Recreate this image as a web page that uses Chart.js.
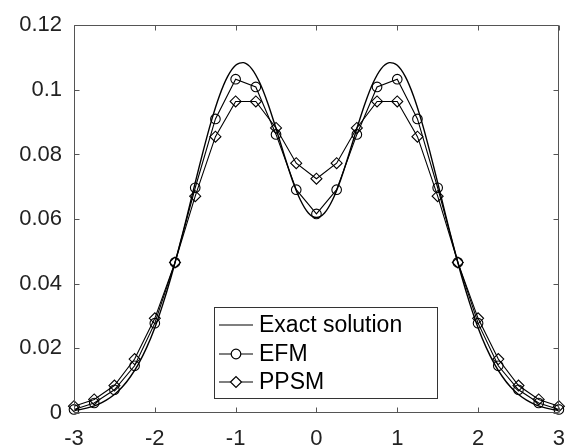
<!DOCTYPE html>
<html>
<head>
<meta charset="utf-8">
<script src="https://cdn.jsdelivr.net/npm/chart.js@4.4.0/dist/chart.umd.min.js"></script>
<style>
  html, body { margin: 0; padding: 0; background: #ffffff; }
  #wrap { width: 578px; height: 446px; }
</style>
</head>
<body>
<div id="wrap"><canvas id="c" width="578" height="446"></canvas></div>
<script>
// ---------- data ----------
const exactX = [-3.0,-2.9,-2.8,-2.7,-2.6,-2.5,-2.4,-2.3,-2.2,-2.1,-2.0,-1.9,-1.8,-1.7,-1.6,-1.5,-1.4,-1.3,-1.2,-1.1,-1.0,-0.9,-0.8,-0.7,-0.6,-0.5,-0.4,-0.3,-0.2,-0.1,0.0,0.1,0.2,0.3,0.4,0.5,0.6,0.7,0.8,0.9,1.0,1.1,1.2,1.3,1.4,1.5,1.6,1.7,1.8,1.9,2.0,2.1,2.2,2.3,2.4,2.5,2.6,2.7,2.8,2.9,3.0];
const exactY = [0.0008,0.0012,0.0018,0.0027,0.0040,0.0057,0.0081,0.0113,0.0153,0.0203,0.0264,0.0337,0.0420,0.0512,0.0611,0.0713,0.0812,0.0904,0.0982,0.1041,0.1076,0.1084,0.1065,0.1021,0.0957,0.0880,0.0799,0.0722,0.0660,0.0619,0.0605,0.0619,0.0660,0.0722,0.0799,0.0880,0.0957,0.1021,0.1065,0.1084,0.1076,0.1041,0.0982,0.0904,0.0812,0.0713,0.0611,0.0512,0.0420,0.0337,0.0264,0.0203,0.0153,0.0113,0.0081,0.0057,0.0040,0.0027,0.0018,0.0012,0.0008];
const markX = [-3,-2.75,-2.5,-2.25,-2,-1.75,-1.5,-1.25,-1,-0.75,-0.5,-0.25,0,0.25,0.5,0.75,1,1.25,1.5,1.75,2,2.25,2.5,2.75,3];
const efmY  = [0.0011,0.0031,0.0072,0.0146,0.0278,0.0466,0.0697,0.0910,0.1033,0.1009,0.0862,0.0691,0.0616,0.0691,0.0862,0.1009,0.1033,0.0910,0.0697,0.0466,0.0278,0.0146,0.0072,0.0031,0.0011];
const ppsmY = [0.0021,0.0042,0.0085,0.0167,0.0293,0.0466,0.0671,0.0855,0.0964,0.0964,0.0882,0.0773,0.0725,0.0773,0.0882,0.0964,0.0964,0.0855,0.0671,0.0466,0.0293,0.0167,0.0085,0.0042,0.0021];
const seriesNames = ['Exact solution', 'EFM', 'PPSM'];
const xTicks = [-3,-2,-1,0,1,2,3];
const xTickLabels = ['-3','-2','-1','0','1','2','3'];
const yTicks = [0,0.02,0.04,0.06,0.08,0.1,0.12];
const yTickLabels = ['0','0.02','0.04','0.06','0.08','0.1','0.12'];

// ---------- styles ----------
const FONT = '"Liberation Sans", Arial, Helvetica, sans-serif';
const AXIS_COLOR = '#555555';
const TEXT_COLOR = '#222222';

function pts(xs, ys) { return xs.map((x, i) => ({ x: x, y: ys[i] })); }

const frameAndLegend = {
  id: 'frameAndLegend',
  afterDatasetsDraw(chart) {
    const ctx = chart.ctx;
    const a = chart.chartArea;
    const xs = chart.scales.x, ys = chart.scales.y;
    ctx.save();
    // box
    ctx.strokeStyle = AXIS_COLOR;
    ctx.lineWidth = 1;
    const L = Math.round(a.left) + 0.5, R = Math.round(a.right) - 0.5;
    const T = Math.round(a.top) + 0.5, B = Math.round(a.bottom) - 0.5;
    ctx.beginPath();
    ctx.rect(L, T, R - L, B - T);
    ctx.stroke();
    // inward ticks
    const tl = 5;
    ctx.beginPath();
    xTicks.forEach(v => {
      const px = Math.round(xs.getPixelForValue(v)) + 0.5;
      ctx.moveTo(px, B); ctx.lineTo(px, B - tl);
      ctx.moveTo(px, T); ctx.lineTo(px, T + tl);
    });
    yTicks.forEach(v => {
      const py = Math.round(ys.getPixelForValue(v)) + 0.5;
      ctx.moveTo(L, py); ctx.lineTo(L + tl, py);
      ctx.moveTo(R, py); ctx.lineTo(R - tl, py);
    });
    ctx.stroke();

    // legend
    const lx = 214.5, ly = 307.5, lw = 223, lh = 91;
    ctx.fillStyle = '#ffffff';
    ctx.fillRect(lx, ly, lw, lh);
    ctx.strokeStyle = '#333333';
    ctx.strokeRect(lx, ly, lw, lh);
    const rows = [325, 354, 382];
    const x0 = 219, x1 = 253, xm = 236;
    chart.data.datasets.forEach((ds, i) => {
      const y = rows[i];
      ctx.strokeStyle = '#000000';
      ctx.lineWidth = 1.2;
      const r = ds.pointRadius || 0;
      ctx.beginPath();
      if (r > 0) {
        ctx.moveTo(x0, y); ctx.lineTo(xm - r, y);
        ctx.moveTo(xm + r, y); ctx.lineTo(x1, y);
      } else {
        ctx.moveTo(x0, y); ctx.lineTo(x1, y);
      }
      ctx.stroke();
      if (r > 0) {
        ctx.beginPath();
        if (ds.pointStyle === 'circle') {
          ctx.arc(xm, y, r, 0, Math.PI * 2);
        } else {
          ctx.moveTo(xm - r, y); ctx.lineTo(xm, y - r);
          ctx.lineTo(xm + r, y); ctx.lineTo(xm, y + r);
          ctx.closePath();
        }
        ctx.stroke();
      }
      ctx.fillStyle = '#000000';
      ctx.font = '23px ' + FONT;
      ctx.textAlign = 'left';
      ctx.textBaseline = 'middle';
      ctx.fillText(ds.label, 259, y + 1);
    });
    ctx.restore();
  }
};

new Chart(document.getElementById('c'), {
  type: 'line',
  data: {
    datasets: [
      {
        label: seriesNames[0],
        data: pts(exactX, exactY),
        borderColor: '#000000',
        borderWidth: 1.4,
        pointRadius: 0,
        tension: 0.3,
        fill: false,
        clip: false
      },
      {
        label: seriesNames[1],
        data: pts(markX, efmY),
        borderColor: '#000000',
        borderWidth: 1.1,
        pointStyle: 'circle',
        pointRadius: 4.8,
        pointBorderWidth: 1.1,
        pointBorderColor: '#000000',
        pointBackgroundColor: 'rgba(0,0,0,0)',
        tension: 0,
        fill: false,
        clip: false
      },
      {
        label: seriesNames[2],
        data: pts(markX, ppsmY),
        borderColor: '#000000',
        borderWidth: 1.1,
        pointStyle: 'rectRot',
        pointRadius: 5.5,
        pointBorderWidth: 1.1,
        pointBorderColor: '#000000',
        pointBackgroundColor: 'rgba(0,0,0,0)',
        tension: 0,
        fill: false,
        clip: false
      }
    ]
  },
  options: {
    responsive: false,
    animation: false,
    events: [],
    layout: { padding: { left: 0, top: 19, right: 8, bottom: 0 } },
    plugins: { legend: { display: false }, tooltip: { enabled: false } },
    scales: {
      x: {
        type: 'linear',
        min: -3, max: 3,
        grid: { display: false, drawTicks: false },
        border: { display: false },
        afterBuildTicks: s => { s.ticks = xTicks.map(v => ({ value: v })); },
        afterFit: s => { s.height = 33; },
        ticks: {
          autoSkip: false,
          maxRotation: 0,
          padding: 13,
          color: TEXT_COLOR,
          font: { family: FONT, size: 22 },
          callback: (v) => { const i = xTicks.indexOf(v); return i >= 0 ? xTickLabels[i] : ''; }
        }
      },
      y: {
        type: 'linear',
        min: 0, max: 0.12,
        grid: { display: false, drawTicks: false },
        border: { display: false },
        afterBuildTicks: s => { s.ticks = yTicks.map(v => ({ value: v })); },
        afterFit: s => { s.width = 74; },
        ticks: {
          autoSkip: false,
          padding: 12,
          color: TEXT_COLOR,
          font: { family: FONT, size: 22 },
          callback: (v) => { const i = yTicks.indexOf(v); return i >= 0 ? yTickLabels[i] : ''; }
        }
      }
    }
  },
  plugins: [frameAndLegend]
});
</script>
</body>
</html>
